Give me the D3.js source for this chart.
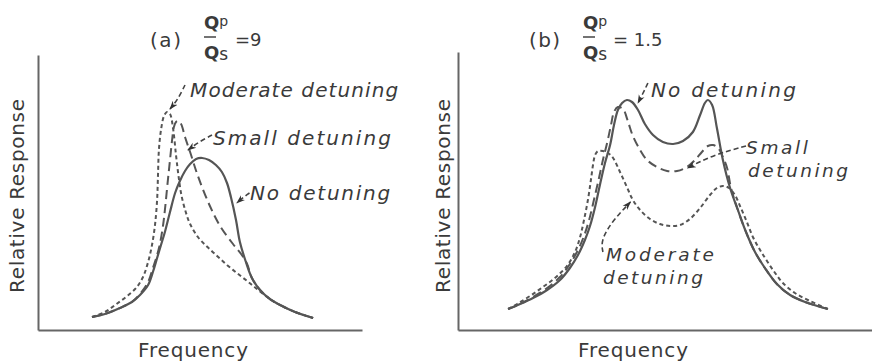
<!DOCTYPE html>
<html><head><meta charset="utf-8">
<script src="https://cdn.jsdelivr.net/npm/d3@7"></script>
<style>
html,body{margin:0;padding:0;background:#fff;}
svg{display:block;}
text{fill:#3a3a3a;font-family:"DejaVu Sans",sans-serif;}
.lab{font-style:italic;}
</style></head>
<body>
<svg id="c" width="872" height="363"></svg>
<script>
// ---------- data (frequency, relative response) in arbitrary units ----------
// Panel (a): Qp/Qs = 9
const aNone = [[18,5.2],[22.3,6.4],[27.3,8.8],[31.3,11.2],[34,14],[36.7,18],[38.3,23.2],[39.7,28.8],[41,34],[42.3,39.2],[44,47.2],[45.7,54.8],[47.3,59.6],[49,63.6],[50.7,66.4],[52.7,68.4],[54.7,68.8],[57,68],[59.3,66],[61.3,63.2],[63,58.8],[64.3,53.2],[66,44],[67.3,35.2],[69.3,27.2],[71.3,20.8],[74,16],[77.3,12.4],[80.7,10],[85.7,7.2],[91.7,4.8]];
const aSmall = [[18,5.2],[22.3,6.4],[27.3,8.8],[31.3,11.2],[34,14.4],[36.7,19.2],[38.3,24.8],[39.7,30],[40.7,34.8],[41.7,42],[42.3,48],[43.3,60],[44,68],[44.7,76],[45.3,81.2],[46,83.2],[46.7,83.6],[47.7,82.4],[49,77.2],[50.7,71.2],[53.3,61.6],[57.3,49.6],[60.7,41.6],[65,34.4],[67.7,30.4],[69.7,26.4],[71.3,20.8],[74,16],[77.3,12.4],[80.7,10],[85.7,7.2],[91.7,4.8]];
const aModerate = [[18,5.2],[22.3,7.2],[25.7,10],[29.3,13.2],[32.7,16.8],[35,21.2],[36.7,27.2],[38,34],[39,42],[39.7,52],[40,62],[40.3,72],[41,80],[42,85.6],[43,87.2],[44,86.4],[45,80.8],[46,70],[46.8,62],[47.8,54],[49.3,47],[50.7,42.4],[53.3,37.2],[56.3,33.4],[59.7,29.6],[63,26],[66.3,22.8],[69.7,19.6],[73,16.4],[77.3,12.4],[80.7,10],[85.7,7.2],[91.7,4.8]];
// Panel (b): Qp/Qs = 1.5
const bNone = [[16.7,8.4],[20.7,10.4],[25,12.8],[29.7,16],[34,20],[37.3,24.8],[40,30],[42.3,36],[44,41.6],[45.7,49.2],[47.3,58],[49,66.8],[50.7,74],[52,82],[53.3,88],[54.7,90.8],[56.3,92],[58,91.2],[60,88],[62.3,82.4],[65,78],[68.3,75.2],[71.7,74.4],[75,75.6],[78.3,79.2],[80.7,86],[82.3,90.8],[83.3,92],[84.7,90],[86.3,80.8],[88.3,68],[90.7,56.8],[93.3,48],[96,39.2],[99,31.2],[102.3,24.8],[106.3,18.4],[110.7,14],[115.7,11.2],[123.3,8.4]];
const bSmall = [[16.7,8.4],[20.7,10.4],[25,13.2],[29.7,16.8],[34,21.2],[37.3,26.4],[40,32],[42,37.6],[43.7,44],[45.3,52],[47,60.8],[48.3,68],[49.7,74.8],[51,82],[52,87.2],[53.3,89.2],[55,88.4],[56.7,83.2],[58.3,77.6],[60.7,72],[63,68],[66.3,65.2],[69.7,63.6],[73,63.6],[76.3,65.2],[79,68],[81.3,71.2],[83.3,73.6],[85,74],[86.7,72.8],[88,70],[89.7,64.8],[91,56.8],[93.3,48],[96,39.2],[99,31.2],[102.3,24.8],[106.3,18.4],[110.7,14],[115.7,11.2],[123.3,8.4]];
const bModerate = [[16.7,8.4],[19.7,10.4],[24,13.6],[28.3,17.2],[32.3,20.8],[36.3,25.6],[39,31.2],[40.7,37.2],[42,44],[43.3,52],[44.3,60],[45,66],[45.7,70],[46.7,71.6],[48.3,71.6],[50,70.8],[51.7,68.8],[54,63.2],[56.3,57.2],[58.3,52],[60.7,48],[64,44.4],[67.3,42.4],[70.7,41.6],[74,42],[77.3,44.4],[80.7,48.8],[84,54],[86.3,56.8],[88.3,57.6],[90.3,56.8],[92.3,54],[94.3,48.8],[96.3,43.2],[98.3,37.2],[100.7,32],[103,27.6],[105.7,22.8],[108.3,18.8],[112.3,14.8],[117.3,11.6],[123.3,8.4]];

const seriesNames = ["No detuning","Small detuning","Moderate detuning"];
const axisTitles = ["Frequency","Relative Response"];
const panelTags = ["(a)","(b)"];
const ratioValues = ["=9","= 1.5"];

// ---------- layout ----------
const svg = d3.select("#c");
const ink = "#555";
const panels = [
  {x:d3.scaleLinear().domain([0,108]).range([38,362]), y:d3.scaleLinear().domain([0,110]).range([330,55]),
   data:[aNone,aSmall,aModerate]},
  {x:d3.scaleLinear().domain([0,138]).range([458,872]), y:d3.scaleLinear().domain([0,111.2]).range([330,52]),
   data:[bNone,bSmall,bModerate]}
];
const dashes = [null,"9,5","4,3"];

const defs = svg.append("defs");
defs.append("marker").attr("id","ah").attr("viewBox","0 0 10 10").attr("refX",9).attr("refY",5)
  .attr("markerWidth",9).attr("markerHeight",9).attr("markerUnits","userSpaceOnUse").attr("orient","auto")
  .append("path").attr("d","M0,1.5 L10,5 L0,8.5 L3,5 Z").attr("fill","#333");

panels.forEach((p,i)=>{
  const g = svg.append("g");
  g.append("g").attr("transform",`translate(0,${p.y(0)})`)
    .call(d3.axisBottom(p.x).tickValues([]).tickSizeOuter(0))
    .call(s=>s.select(".domain").attr("stroke","#666").attr("stroke-width",2));
  g.append("g").attr("transform",`translate(${p.x(0)},0)`)
    .call(d3.axisLeft(p.y).tickValues([]).tickSizeOuter(0))
    .call(s=>s.select(".domain").attr("stroke","#666").attr("stroke-width",2));
  const line = d3.line().x(d=>p.x(d[0])).y(d=>p.y(d[1])).curve(d3.curveCatmullRom.alpha(0.5));
  [2,1,0].forEach(k=>{
    g.append("path").attr("d",line(p.data[k])).attr("fill","none").attr("stroke",ink)
      .attr("stroke-width",k===0?2.2:2).attr("stroke-dasharray",dashes[k]).attr("stroke-linecap","butt");
  });
});

// axis titles
const xc = [193,633], yc=[17,443];
[0,1].forEach(i=>{
  svg.append("text").attr("x",xc[i]-55).attr("y",357)
    .attr("font-size",20).attr("textLength",110).attr("lengthAdjust","spacing").text(axisTitles[0]);
  svg.append("text").attr("transform",`translate(${yc[i]+7},196) rotate(-90)`)
    .attr("x",-97).attr("font-size",20).attr("textLength",194).attr("lengthAdjust","spacing").text(axisTitles[1]);
});

// panel titles
const tagX=[150,529], fracX=[204,583], eqX=[235,613];
[0,1].forEach(i=>{
  svg.append("text").attr("x",tagX[i]).attr("y",47).attr("font-size",20).attr("textLength",31).attr("lengthAdjust","spacing").text(panelTags[i]);
  const t1 = svg.append("text").attr("x",fracX[i]).attr("y",29).attr("font-size",18).attr("font-weight","bold");
  t1.append("tspan").text("Q");
  t1.append("tspan").attr("font-size",14).attr("font-weight","normal").attr("dy",-3).text("p");
  svg.append("line").attr("x1",fracX[i]).attr("x2",fracX[i]+12).attr("y1",37).attr("y2",37).attr("stroke","#444").attr("stroke-width",1.5);
  const t2 = svg.append("text").attr("x",fracX[i]).attr("y",59).attr("font-size",18).attr("font-weight","bold");
  t2.append("tspan").text("Q");
  t2.append("tspan").attr("font-size",17).attr("font-weight","normal").attr("dy",1).text("s");
  svg.append("text").attr("x",eqX[i]).attr("y",46).attr("font-size",18).text(ratioValues[i]);
});

// labels + leaders (in data coordinates of each panel)
const A = panels[0], B = panels[1];
function lab(p, x, y, s, len, fs){
  const t = svg.append("text").attr("class","lab").attr("x",p.x(x)).attr("y",p.y(y)).attr("font-size",fs||20).text(s);
  if(len) t.attr("textLength",len).attr("lengthAdjust","spacing");
}
function leader(p, pts){
  const l = d3.line().x(d=>p.x(d[0])).y(d=>p.y(d[1])).curve(d3.curveBasis);
  svg.append("path").attr("d",l(pts)).attr("fill","none").attr("stroke","#444").attr("stroke-width",1.6)
    .attr("stroke-dasharray","5,3").attr("marker-end","url(#ah)");
}
lab(A, 50.7, 93.2, seriesNames[2], 208);
lab(A, 58.3, 74, seriesNames[1], 178);
lab(A, 70.7, 52, seriesNames[0], 140);
leader(A, [[49,98],[46.5,92],[44,88.4]]);
leader(A, [[58,78],[54,75.5],[50,72]]);
leader(A, [[70.5,54.8],[69,53.6],[66.3,50.8]]);

lab(B, 64.3, 93.2, seriesNames[0], 145);
lab(B, 96,   70.4, "Small", 62, 18.5);
lab(B, 96.7, 61.2, "detuning", 100, 18.5);
lab(B, 49.3, 27.6, "Moderate", 108, 18.5);
lab(B, 48.3, 18.4, "detuning", 100, 18.5);
leader(B, [[63.3,98.8],[62,95.5],[60,90.8]]);
leader(B, [[96,73.6],[85,70],[76.5,64.8]]);
leader(B, [[48.3,31.2],[47.6,36],[51.7,44],[57.5,51.2]]);
</script>
</body></html>
